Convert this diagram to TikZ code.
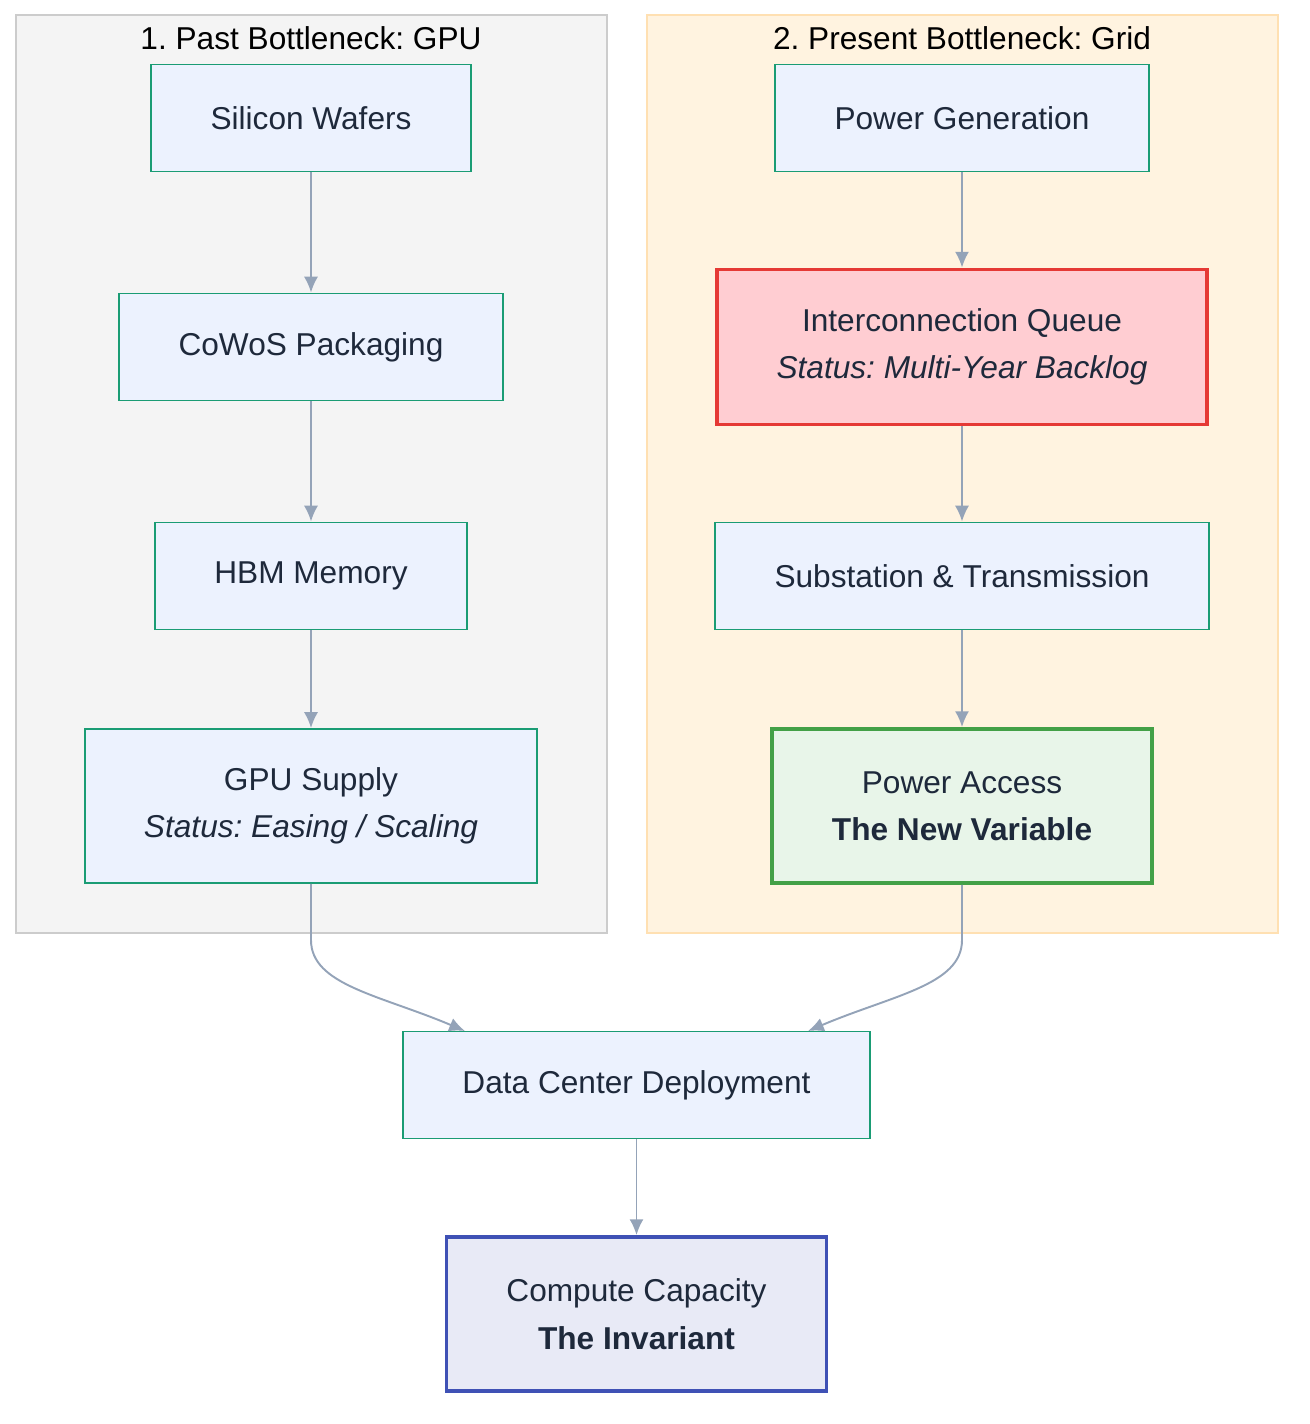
\documentclass[tikz,border=0pt]{standalone}
\usepackage{fontspec}
\setmainfont{Liberation Sans}
\usepackage{tikz}
\usetikzlibrary{arrows.meta,calc}
\definecolor{nodefill}{HTML}{ECF2FE}
\definecolor{nodeline}{HTML}{1A9C74}
\definecolor{txt}{HTML}{1E293B}
\definecolor{arrowc}{HTML}{94A3B8}
\definecolor{pastfill}{HTML}{F4F4F4}
\definecolor{pastline}{HTML}{CCCCCC}
\definecolor{nowfill}{HTML}{FFF3E0}
\definecolor{nowline}{HTML}{FFE0B2}
\definecolor{queuefill}{HTML}{FFCDD2}
\definecolor{queueline}{HTML}{E53935}
\definecolor{accessfill}{HTML}{E8F5E9}
\definecolor{accessline}{HTML}{43A047}
\definecolor{computefill}{HTML}{E8EAF6}
\definecolor{computeline}{HTML}{3F51B5}
\frenchspacing
\begin{document}
\begin{tikzpicture}[x=0.02cm,y=-0.02cm,
      >={Latex[length=9pt,width=8pt]},
      flow/.style={->,draw=arrowc,line width=1.1pt},
      box/.style={rectangle,draw=nodeline,fill=nodefill,line width=1.1pt,
        text=txt,align=center,font=\fontsize{18}{27}\selectfont,
        minimum height=2.14cm},
      tall/.style={box,minimum height=3.08cm},
      cluster/.style={line width=1.1pt},
      title/.style={font=\fontsize{18}{22}\selectfont,text=black}]
      \useasboundingbox (0,0) rectangle (1310,1424);
      % clusters
      \draw[cluster,fill=pastfill,draw=pastline] (16,15) rectangle (607,933);
      \draw[cluster,fill=nowfill,draw=nowline] (647,15) rectangle (1278,933);
      \node[title] (t1) at (311,38) {1. Past Bottleneck: GPU};
      \node[title] (t2) at (962,38) {2. Present Bottleneck: Grid};

      % past
      \node[box,minimum width=6.4cm]  (wafer) at (311,118) {Silicon Wafers};
      \node[box,minimum width=7.68cm] (cowos) at (311,347) {CoWoS Packaging};
      \node[box,minimum width=6.24cm] (hbm)   at (311,576) {HBM Memory};
      \node[tall,minimum width=9.06cm] (gpu)  at (311,806) {GPU Supply\\\textit{Status: Easing / Scaling}};

      % present
      \node[box,minimum width=7.48cm] (gen) at (962,118) {Power Generation};
      \node[tall,minimum width=9.8cm,minimum height=3.1cm,fill=queuefill,
        draw=queueline,line width=2.2pt] (queue) at (962,347)
        {Interconnection Queue\\\textit{Status: Multi-Year Backlog}};
      \node[box,minimum width=9.88cm] (sub) at (962,576) {Substation \& Transmission};
      \node[tall,minimum width=7.6cm,fill=accessfill,
        draw=accessline,line width=2.2pt] (access) at (962,806)
        {Power Access\\\textbf{The New Variable}};

      % result
      \node[box,minimum width=9.34cm] (dc) at (636.5,1085) {Data Center Deployment};
      \node[tall,minimum width=7.6cm,fill=computefill,
        draw=computeline,line width=2.2pt] (compute) at (636.5,1314)
        {Compute Capacity\\\textbf{The Invariant}};

      \draw[flow] (wafer) -- (cowos);
      \draw[flow] (cowos) -- (hbm);
      \draw[flow] (hbm) -- (gpu);
      \draw[flow] (gen) -- (queue);
      \draw[flow] (queue) -- (sub);
      \draw[flow] (sub) -- (access);
      \draw[flow] (dc) -- (compute);
      \draw[flow] (gpu.south) -- (311,940) .. controls (311,985) and (380,995) .. (465,1031);
      \draw[flow] (access.south) -- (962,940) .. controls (962,985) and (893,995) .. (808,1031);
      \end{tikzpicture}
\end{document}
